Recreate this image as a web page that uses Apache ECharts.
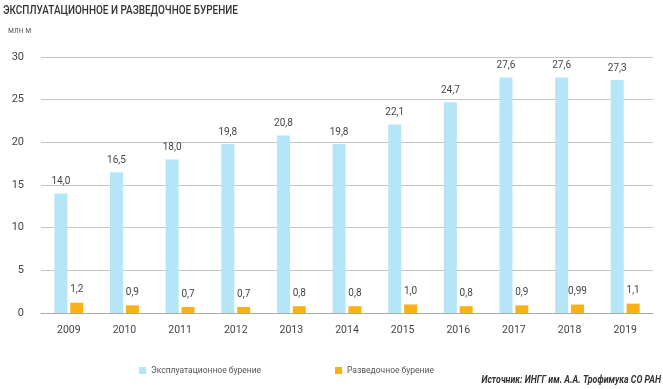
<!DOCTYPE html>
<html><head><meta charset="utf-8">
<script src="https://cdn.jsdelivr.net/npm/echarts@6/dist/echarts.min.js"></script>
<style>html,body{margin:0;padding:0;background:#fff}#c{width:663px;height:389px}</style>
</head><body><div id="c"></div>
<script>
const years = ['2009','2010','2011','2012','2013','2014','2015','2016','2017','2018','2019'];
const prodValues = [14.0,16.5,18.0,19.8,20.8,19.8,22.1,24.7,27.6,27.6,27.3];
const prodLabels = ['14,0','16,5','18,0','19,8','20,8','19,8','22,1','24,7','27,6','27,6','27,3'];
const explValues = [1.2,0.9,0.7,0.7,0.8,0.8,1.0,0.8,0.9,0.99,1.1];
const explLabels = ['1,2','0,9','0,7','0,7','0,8','0,8','1,0','0,8','0,9','0,99','1,1'];

const FONT = 'Roboto, sans-serif';
const chart = echarts.init(document.getElementById('c'));
chart.setOption({
  animation: false,
  graphic: [
    {type: 'text', x: 3, y: 5, scaleX: 0.83, origin: [0, 0],
     style: {text: 'ЭКСПЛУАТАЦИОННОЕ И РАЗВЕДОЧНОЕ БУРЕНИЕ', font: '500 12px Roboto', fill: '#333'}},
    {type: 'text', x: 8, y: 26, scaleX: 0.9, origin: [0, 0],
     style: {text: 'млн м', font: '9px Roboto', fill: '#666'}},
    {type: 'text', x: 661, y: 375, scaleX: 0.8, origin: [0, 0],
     style: {text: 'Источник: ИНГГ им. А.А. Трофимука СО РАН', font: 'italic bold 11px Roboto', fill: '#333', align: 'right'}}
  ],
  legend: [
    {data: ['Эксплуатационное бурение'], left: 134, top: 361, itemWidth: 7, itemHeight: 7, itemGap: 7,
     icon: 'rect', textStyle: {fontFamily: FONT, fontSize: 8.5, color: '#555'}},
    {data: ['Разведочное бурение'], left: 330, top: 361, itemWidth: 7, itemHeight: 7, itemGap: 7,
     icon: 'rect', textStyle: {fontFamily: FONT, fontSize: 8.5, color: '#555'}}
  ],
  grid: {left: 41, right: 10, top: 57, bottom: 76, containLabel: false},
  xAxis: {
    type: 'category', data: years,
    axisLine: {lineStyle: {color: '#aaa', width: 1}},
    axisTick: {show: false},
    axisLabel: {fontFamily: FONT, fontSize: 10.5, color: '#444', margin: 12}
  },
  yAxis: {
    type: 'value', min: 0, max: 30, interval: 5,
    axisLine: {show: false}, axisTick: {show: false},
    axisLabel: {fontFamily: FONT, fontSize: 11, color: '#444', margin: 17},
    splitLine: {lineStyle: {color: '#c4c4c4', width: 1}}
  },
  series: [
    {name: 'Эксплуатационное бурение', type: 'bar', data: prodValues, barWidth: 13, barGap: '22%',
     itemStyle: {color: '#b5e6f8'},
     label: {show: true, position: 'top', distance: 7, fontFamily: FONT, fontSize: 10, color: '#444',
             formatter: p => prodLabels[p.dataIndex]}},
    {name: 'Разведочное бурение', type: 'bar', data: explValues, barWidth: 13,
     itemStyle: {color: '#fbb116'},
     label: {show: true, position: 'top', distance: 8, fontFamily: FONT, fontSize: 10, color: '#444',
             formatter: p => explLabels[p.dataIndex]}}
  ]
});
</script></body></html>
